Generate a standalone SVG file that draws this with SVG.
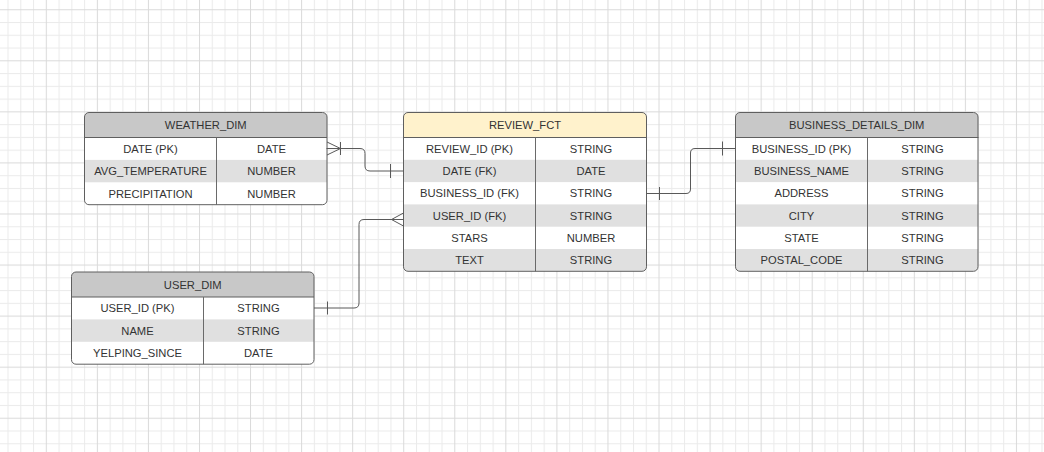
<svg xmlns="http://www.w3.org/2000/svg" width="1044" height="452" viewBox="0 0 1044 452">
  <style>
    .frame { fill: none; stroke: #5f5f5f; stroke-width: 1; }
    .hdr { fill: #c8c8c8; }
    .hdr-fct { fill: #fff2cc; }
    .alt { fill: #e0e0e0; }
    .sep { stroke: #5f5f5f; stroke-width: 1; fill: none; }
    .col { stroke: #6a6a6a; stroke-width: 1; }
    text { font-family: "Liberation Sans", Arial, sans-serif; font-size: 11.2px; fill: #333333; text-anchor: middle; }
    .link { fill: none; stroke: #595959; stroke-width: 1; }
  </style>
  <defs>
    <pattern id="grid" patternUnits="userSpaceOnUse" x="45.8" y="60.3" width="51.06" height="51.06">
      <rect x="0" y="0" width="51.06" height="51.06" fill="#ffffff"/>
      <rect x="12.765" y="0" width="1" height="51.06" fill="#ebebeb"/>
      <rect x="25.53" y="0" width="1" height="51.06" fill="#ebebeb"/>
      <rect x="38.295" y="0" width="1" height="51.06" fill="#ebebeb"/>
      <rect x="0" y="12.765" width="51.06" height="1" fill="#ebebeb"/>
      <rect x="0" y="25.53" width="51.06" height="1" fill="#ebebeb"/>
      <rect x="0" y="38.295" width="51.06" height="1" fill="#ebebeb"/>
      <rect x="0" y="0" width="1" height="51.06" fill="#dadada"/>
      <rect x="0" y="0" width="51.06" height="1" fill="#dadada"/>
    </pattern>
    <!-- clip shapes in table-local coordinates -->
    <clipPath id="clip3"><rect x="0" y="0" width="242.5" height="92.2" rx="4.5"/></clipPath>
    <clipPath id="clip6"><rect x="0" y="0" width="243" height="158.8" rx="4.5"/></clipPath>
  </defs>

  <rect x="0" y="0" width="1044" height="452" fill="url(#grid)"/>

  <!-- WEATHER_DIM -->
  <g id="weather_dim" transform="translate(84.5,112.5)">
    <g clip-path="url(#clip3)">
      <rect x="0" y="0" width="242.5" height="92.2" fill="#ffffff"/>
      <rect class="hdr" x="0" y="0" width="242.5" height="25"/>
      <rect class="alt" x="0" y="47.4" width="242.5" height="22.4"/>
    </g>
    <line class="sep" x1="0" y1="25" x2="242.5" y2="25"/>
    <line class="col" x1="132" y1="25" x2="132" y2="92.2"/>
    <rect class="frame" x="0" y="0" width="242.5" height="92.2" rx="4.5"/>
    <text x="121.25" y="16.5">WEATHER_DIM</text>
    <text x="66" y="40.2">DATE (PK)</text><text x="187" y="40.2">DATE</text>
    <text x="66" y="62.6">AVG_TEMPERATURE</text><text x="187" y="62.6">NUMBER</text>
    <text x="66" y="85">PRECIPITATION</text><text x="187" y="85">NUMBER</text>
  </g>

  <!-- REVIEW_FCT -->
  <g id="review_fct" transform="translate(403.5,112.5)">
    <g clip-path="url(#clip6)">
      <rect x="0" y="0" width="243" height="158.8" fill="#ffffff"/>
      <rect class="hdr-fct" x="0" y="0" width="243" height="25"/>
      <rect class="alt" x="0" y="47.3" width="243" height="22.3"/>
      <rect class="alt" x="0" y="91.9" width="243" height="22.3"/>
      <rect class="alt" x="0" y="136.5" width="243" height="22.3"/>
    </g>
    <line class="sep" x1="0" y1="25" x2="243" y2="25"/>
    <line class="col" x1="132" y1="25" x2="132" y2="158.8"/>
    <rect class="frame" x="0" y="0" width="243" height="158.8" rx="4.5"/>
    <text x="121.5" y="16.5">REVIEW_FCT</text>
    <text x="66" y="40.1">REVIEW_ID (PK)</text><text x="187.5" y="40.1">STRING</text>
    <text x="66" y="62.4">DATE (FK)</text><text x="187.5" y="62.4">DATE</text>
    <text x="66" y="84.7">BUSINESS_ID (FK)</text><text x="187.5" y="84.7">STRING</text>
    <text x="66" y="107">USER_ID (FK)</text><text x="187.5" y="107">STRING</text>
    <text x="66" y="129.3">STARS</text><text x="187.5" y="129.3">NUMBER</text>
    <text x="66" y="151.6">TEXT</text><text x="187.5" y="151.6">STRING</text>
  </g>

  <!-- BUSINESS_DETAILS_DIM -->
  <g id="business_details_dim" transform="translate(735.5,112.5)">
    <g clip-path="url(#clip6)">
      <rect x="0" y="0" width="243" height="158.8" fill="#ffffff"/>
      <rect class="hdr" x="0" y="0" width="243" height="25"/>
      <rect class="alt" x="0" y="47.3" width="243" height="22.3"/>
      <rect class="alt" x="0" y="91.9" width="243" height="22.3"/>
      <rect class="alt" x="0" y="136.5" width="243" height="22.3"/>
    </g>
    <line class="sep" x1="0" y1="25" x2="243" y2="25"/>
    <line class="col" x1="132" y1="25" x2="132" y2="158.8"/>
    <rect class="frame" x="0" y="0" width="242.5" height="158.8" rx="4.5"/>
    <text x="121.25" y="16.5">BUSINESS_DETAILS_DIM</text>
    <text x="66" y="40.1">BUSINESS_ID (PK)</text><text x="187" y="40.1">STRING</text>
    <text x="66" y="62.4">BUSINESS_NAME</text><text x="187" y="62.4">STRING</text>
    <text x="66" y="84.7">ADDRESS</text><text x="187" y="84.7">STRING</text>
    <text x="66" y="107">CITY</text><text x="187" y="107">STRING</text>
    <text x="66" y="129.3">STATE</text><text x="187" y="129.3">STRING</text>
    <text x="66" y="151.6">POSTAL_CODE</text><text x="187" y="151.6">STRING</text>
  </g>

  <!-- USER_DIM -->
  <g id="user_dim" transform="translate(71.5,272)">
    <g clip-path="url(#clip3)">
      <rect x="0" y="0" width="242.5" height="92.2" fill="#ffffff"/>
      <rect class="hdr" x="0" y="0" width="242.5" height="25"/>
      <rect class="alt" x="0" y="47.4" width="242.5" height="22.4"/>
    </g>
    <line class="sep" x1="0" y1="25" x2="242.5" y2="25"/>
    <line class="col" x1="132" y1="25" x2="132" y2="92.2"/>
    <rect class="frame" x="0" y="0" width="242.5" height="92.2" rx="4.5"/>
    <text x="121.25" y="16.5">USER_DIM</text>
    <text x="66" y="40.2">USER_ID (PK)</text><text x="187" y="40.2">STRING</text>
    <text x="66" y="62.6">NAME</text><text x="187" y="62.6">STRING</text>
    <text x="66" y="85">YELPING_SINCE</text><text x="187" y="85">DATE</text>
  </g>

  <!-- relationships -->
  <g id="connectors">
    <!-- WEATHER_DIM.DATE to REVIEW_FCT.DATE -->
    <path class="link" d="M326.5,148.5 H360 Q365,148.5 365,153.5 V166 Q365,171 370,171 H403.5"/>
    <path class="link" d="M327,142 L340.5,148.5 L327,155 M340.5,142 V155"/>
    <path class="link" d="M390.5,164 V178"/>
    <!-- REVIEW_FCT.BUSINESS_ID to BUSINESS_DETAILS_DIM.BUSINESS_ID -->
    <path class="link" d="M646.5,193.5 H686 Q690.5,193.5 690.5,189 V153 Q690.5,148.5 695,148.5 H735.5"/>
    <path class="link" d="M659.5,187 V200 M722.5,141.5 V155.5"/>
    <!-- USER_DIM.USER_ID to REVIEW_FCT.USER_ID -->
    <path class="link" d="M314,308 H354 Q359,308 359,303 V224.5 Q359,219.5 364,219.5 H403.5"/>
    <path class="link" d="M327.5,301.5 V314.5"/>
    <path class="link" d="M403.5,213 L391.5,219.5 L403.5,226"/>
  </g>
</svg>
